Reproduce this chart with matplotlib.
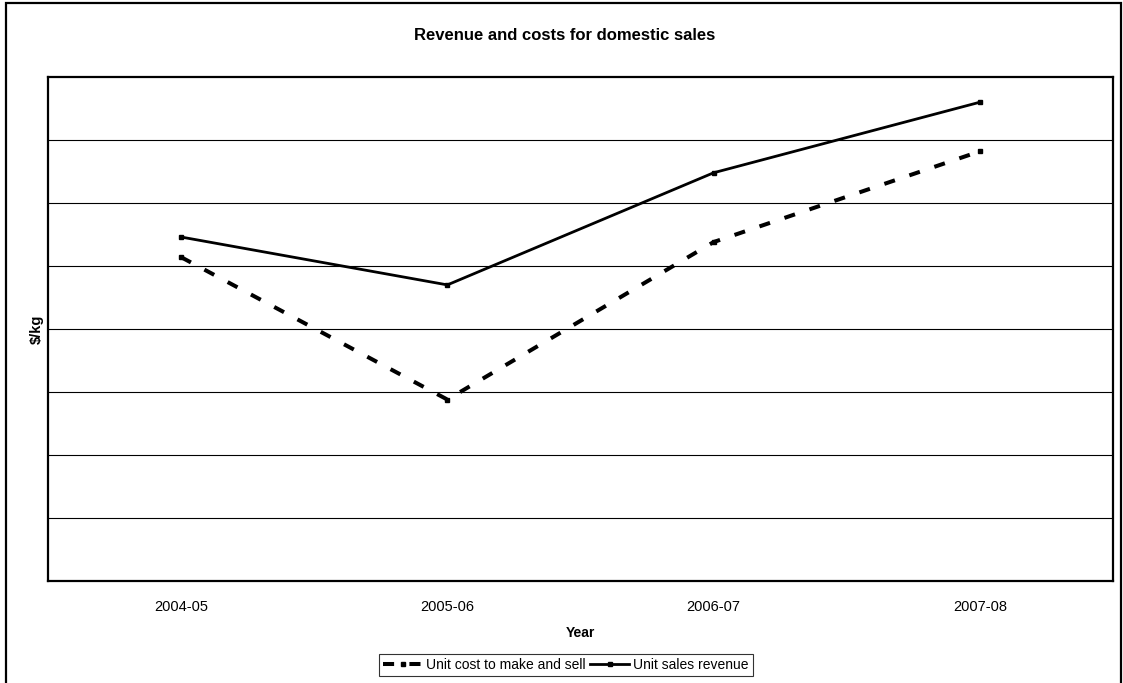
import matplotlib
matplotlib.use("Agg")
import matplotlib.pyplot as plt
from matplotlib.patches import Rectangle

plt.rcParams["font.family"] = ["Liberation Sans", "DejaVu Sans"]
plt.rcParams["lines.scale_dashes"] = False

# values (units $/kg, axis has no tick labels)
years = ["2004-05", "2005-06", "2006-07", "2007-08"]
unit_cost = [2.57, 1.44, 2.69, 3.41]
unit_revenue = [2.73, 2.35, 3.24, 3.80]
y_grid = [0.5, 1.0, 1.5, 2.0, 2.5, 3.0, 3.5]

W, H = 1123, 683
fig = plt.figure(figsize=(W / 100, H / 100), dpi=100)
# plot area in pixel coords: left 48, right 1113, top 77, bottom 581
ax = fig.add_axes([48 / W, 1 - 581 / H, (1113 - 48) / W, (581 - 77) / H])

x = range(len(years))
ax.plot(x, unit_cost, color="black", lw=2.9, linestyle=(0, (8, 11)),
        marker="s", ms=3.5, label="Unit cost to make and sell")
ax.plot(x, unit_revenue, color="black", lw=2.0, marker="s", ms=3.5,
        label="Unit sales revenue")

for g in y_grid:
    ax.axhline(g, color="black", lw=0.8, zorder=0)

ax.set_xlim(-0.5, len(years) - 0.5)
ax.set_ylim(0, 4)
ax.set_xticks(list(x))
ax.set_xticklabels(years, fontsize=10.5)
ax.set_yticks([])
ax.tick_params(axis="x", length=0, pad=14)
for s in ax.spines.values():
    s.set_linewidth(1.6)
    s.set_color("black")

ax.set_xlabel("Year", fontsize=10, fontweight="bold", labelpad=8)
ax.set_ylabel("$/kg", fontsize=10.5, fontweight="bold", labelpad=3)
fig.text(565 / W, 1 - 36 / H, "Revenue and costs for domestic sales",
         ha="center", va="center", fontsize=12, fontweight="bold")

leg = fig.legend(loc="center", bbox_to_anchor=(566 / W, 1 - 665 / H), ncol=2,
                 fontsize=10, frameon=True, fancybox=False, handlelength=2.8,
                 handletextpad=0.3, columnspacing=0.3, borderpad=0.3)
leg.get_frame().set_edgecolor("black")
leg.get_frame().set_linewidth(0.8)

# outer chart border (bottom edge is cut off in the reference)
fig.patches.append(Rectangle((6 / W, -0.05), (1121 - 6) / W, 1.05 - 3 / H,
                             transform=fig.transFigure, fill=False,
                             edgecolor="black", lw=1.6, clip_on=False))

fig.savefig("out.png", dpi=100)
